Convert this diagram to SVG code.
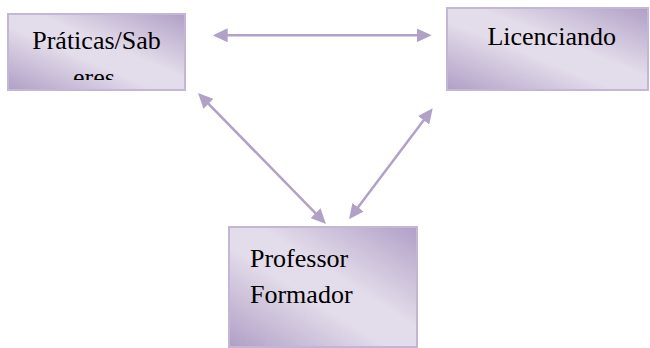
<svg xmlns="http://www.w3.org/2000/svg" width="650" height="348" viewBox="0 0 650 348">
  <style>
    .box { fill: url(#grad); stroke: #c3b6d6; stroke-width: 2; }
    .lbl { font-family: "Liberation Serif", "Times New Roman", serif; font-size: 26px; fill: #000; }
    .conn { stroke: #b2a1c7; stroke-width: 2.5; fill: none; marker-start: url(#ah); marker-end: url(#ah); }
  </style>
  <defs>
    <linearGradient id="grad" x1="0" y1="1" x2="1" y2="0">
      <stop offset="0" stop-color="#b09fc6"/>
      <stop offset="0.42" stop-color="#e3dcea"/>
      <stop offset="0.58" stop-color="#e3dcea"/>
      <stop offset="1" stop-color="#b09fc6"/>
    </linearGradient>
    <marker id="ah" markerUnits="userSpaceOnUse" viewBox="0 0 15 14" markerWidth="15" markerHeight="14" refX="10" refY="7" orient="auto-start-reverse">
      <path d="M0,0 L15,7 L0,14 z" fill="#b2a1c7"/>
    </marker>
    <clipPath id="clip1">
      <rect x="8" y="14" width="177" height="66"/>
    </clipPath>
  </defs>
  <rect width="650" height="348" fill="#ffffff"/>
  <g id="connectors">
    <line class="conn" x1="217.7" y1="35.3" x2="426.7" y2="35.3"/>
    <line class="conn" x1="201.5" y1="96.6" x2="322.5" y2="220.4"/>
    <line class="conn" x1="429.7" y1="112.3" x2="352" y2="215.3"/>
  </g>
  <g id="praticas">
    <rect class="box" x="8" y="14" width="177" height="76"/>
    <g clip-path="url(#clip1)">
      <text class="lbl" x="96.5" y="49.3" text-anchor="middle">Práticas/Sab</text>
      <text class="lbl" x="94" y="86" text-anchor="middle">eres</text>
    </g>
  </g>
  <g id="licenciando">
    <rect class="box" x="447" y="8" width="201" height="82"/>
    <text class="lbl" x="551.7" y="45" text-anchor="middle">Licenciando</text>
  </g>
  <g id="professor">
    <rect class="box" x="229" y="227" width="188" height="120"/>
    <text class="lbl" x="250" y="266.7">Professor</text>
    <text class="lbl" x="250" y="303.3">Formador</text>
  </g>
</svg>
